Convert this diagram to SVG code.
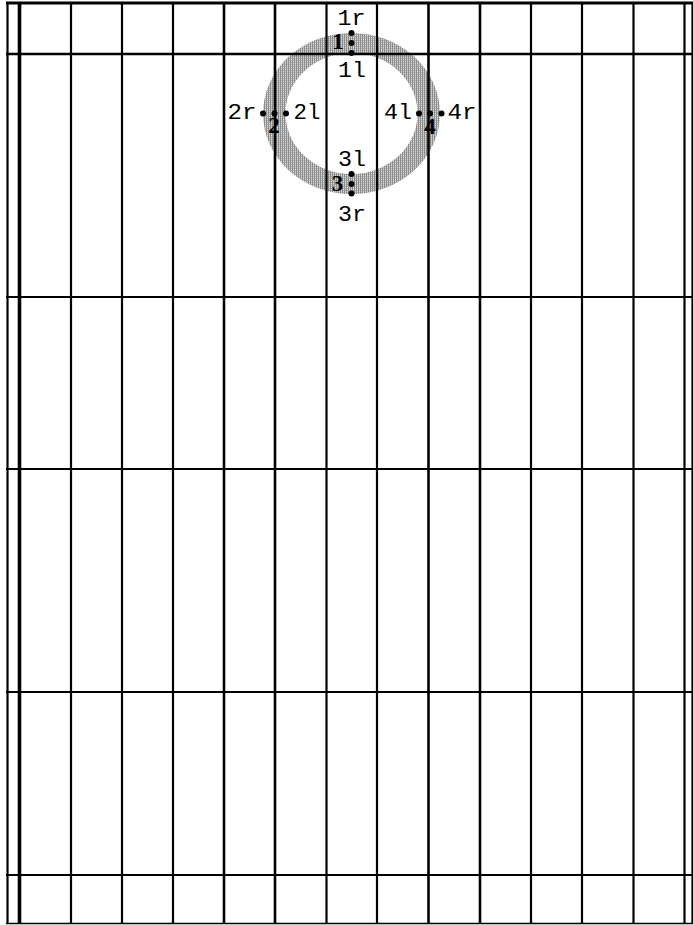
<svg xmlns="http://www.w3.org/2000/svg" width="693" height="925" viewBox="0 0 693 925">
<defs>
<pattern id="dith" width="2" height="2" patternUnits="userSpaceOnUse">
<rect x="0" y="0" width="2" height="2" fill="#d8d8d8"/>
<rect x="0" y="0" width="1" height="2" fill="#8c8c8c"/>
<rect x="1" y="0" width="1" height="1" fill="#b4b4b4"/>
</pattern>
<style>
.g{stroke:#000;stroke-width:2.2;fill:none}
.gt{stroke:#000;stroke-width:3.6;fill:none}
.m{font-family:"Liberation Mono","Courier New",monospace;font-size:22px;fill:#000;text-anchor:middle}
.d{font-family:"Liberation Serif","Times New Roman",serif;font-size:23px;font-weight:bold;fill:#000;text-anchor:middle}
.p{fill:#000}
</style>
</defs>
<rect x="0" y="0" width="693" height="925" fill="#fff"/>
<g id="ring">
<path fill="url(#dith)" fill-rule="evenodd" d="M263,113.5 a88.5,80.5 0 1,0 177,0 a88.5,80.5 0 1,0 -177,0 Z M285.5,113.5 a66,60.5 0 1,0 132,0 a66,60.5 0 1,0 -132,0 Z"/>
</g>
<g id="grid">
<line class="g" x1="6" y1="3" x2="693" y2="3" style="stroke-width:2.8"/>
<line class="g" x1="6" y1="54" x2="693" y2="54" style="stroke-width:2.6"/>
<line class="g" x1="6" y1="297" x2="693" y2="297"/>
<line class="g" x1="6" y1="469" x2="693" y2="469"/>
<line class="g" x1="6" y1="692" x2="693" y2="692"/>
<line class="g" x1="6" y1="875" x2="693" y2="875"/>
<line class="g" x1="6" y1="923.5" x2="693" y2="923.5" style="stroke-width:1.4"/>
<line class="g" x1="7.5" y1="2" x2="7.5" y2="924"/>
<line class="gt" x1="19.5" y1="2" x2="19.5" y2="924"/>
<line class="g" x1="71" y1="2" x2="71" y2="924"/>
<line class="g" x1="122" y1="2" x2="122" y2="924"/>
<line class="g" x1="173" y1="2" x2="173" y2="924"/>
<line class="g" x1="224" y1="2" x2="224" y2="924" style="stroke-width:2.6"/>
<line class="g" x1="275" y1="2" x2="275" y2="924" style="stroke-width:2.6"/>
<line class="g" x1="326.5" y1="2" x2="326.5" y2="924"/>
<line class="g" x1="377" y1="2" x2="377" y2="924"/>
<line class="g" x1="428.5" y1="2" x2="428.5" y2="924" style="stroke-width:2.6"/>
<line class="g" x1="480" y1="2" x2="480" y2="924" style="stroke-width:2.6"/>
<line class="g" x1="531" y1="2" x2="531" y2="924"/>
<line class="g" x1="582" y1="2" x2="582" y2="924"/>
<line class="g" x1="633.5" y1="2" x2="633.5" y2="924"/>
<line class="g" x1="684.5" y1="2" x2="684.5" y2="924"/>
<line class="g" x1="692.5" y1="2" x2="692.5" y2="924"/>
</g>
<g id="point1">
<circle class="p" cx="351.5" cy="33" r="3"/>
<circle class="p" cx="351.5" cy="43" r="3"/>
<circle class="p" cx="351.5" cy="53" r="3"/>
<text class="m" x="351.5" y="25" textLength="28" lengthAdjust="spacingAndGlyphs">1r</text>
<text class="d" x="338" y="49">1</text>
<text class="m" x="352" y="77" textLength="28" lengthAdjust="spacingAndGlyphs">1l</text>
</g>
<g id="point2">
<circle class="p" cx="263" cy="113.5" r="3"/>
<circle class="p" cx="274.5" cy="113.5" r="3"/>
<circle class="p" cx="286" cy="113.5" r="3"/>
<text class="m" x="242" y="119" textLength="29" lengthAdjust="spacingAndGlyphs">2r</text>
<text class="d" x="274" y="133">2</text>
<text class="m" x="307" y="119" textLength="27" lengthAdjust="spacingAndGlyphs">2l</text>
</g>
<g id="point3">
<circle class="p" cx="351.5" cy="174" r="3"/>
<circle class="p" cx="351.5" cy="184" r="3"/>
<circle class="p" cx="351.5" cy="193.5" r="3"/>
<text class="m" x="352" y="166" textLength="28" lengthAdjust="spacingAndGlyphs">3l</text>
<text class="d" x="337.5" y="191">3</text>
<text class="m" x="352" y="221" textLength="28" lengthAdjust="spacingAndGlyphs">3r</text>
</g>
<g id="point4">
<circle class="p" cx="419" cy="113.5" r="3"/>
<circle class="p" cx="430" cy="113.5" r="3"/>
<circle class="p" cx="441.5" cy="113.5" r="3"/>
<text class="m" x="398" y="119" textLength="28" lengthAdjust="spacingAndGlyphs">4l</text>
<text class="d" x="430" y="134">4</text>
<text class="m" x="462" y="119" textLength="29" lengthAdjust="spacingAndGlyphs">4r</text>
</g>
</svg>
